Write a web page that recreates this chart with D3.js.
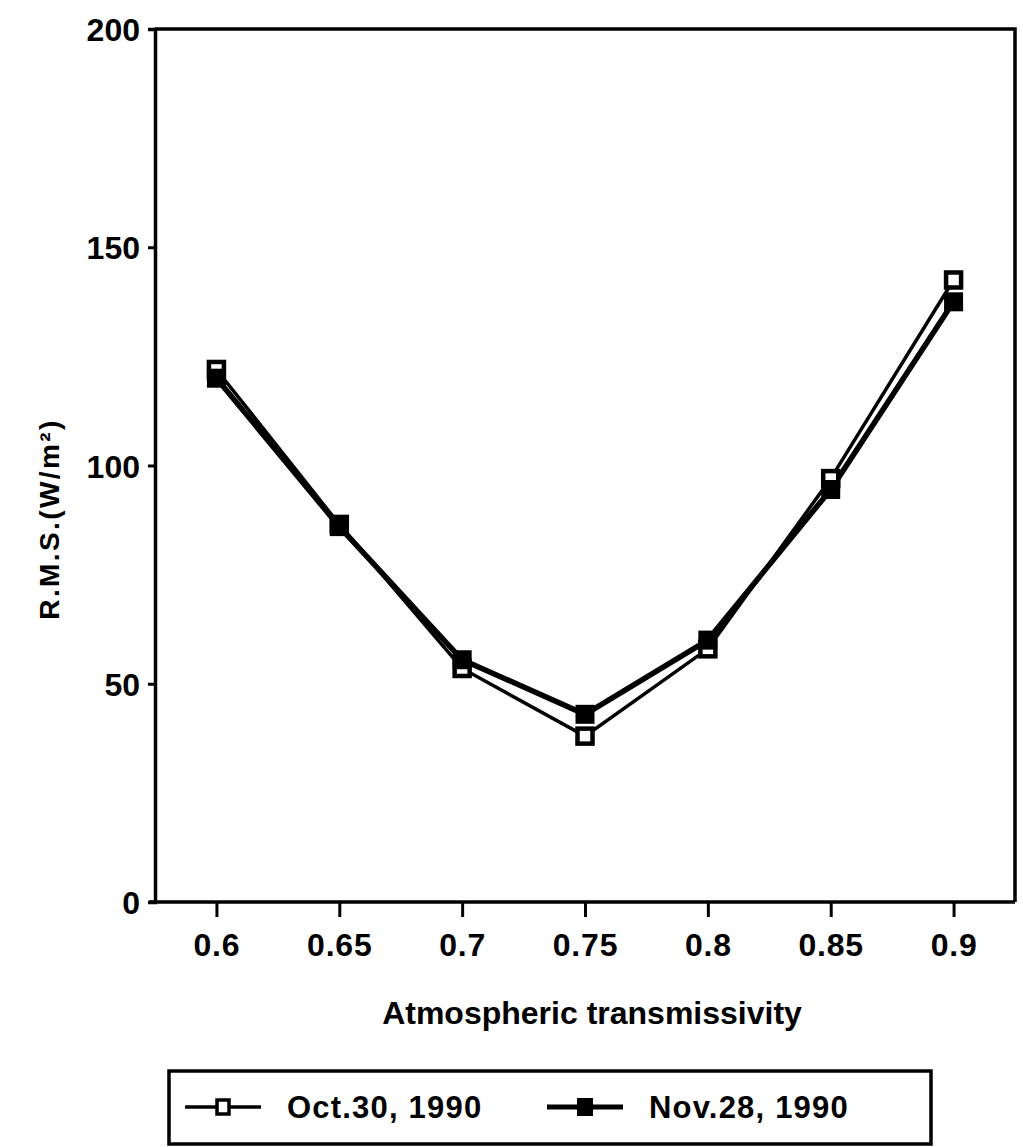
<!DOCTYPE html>
<html>
<head>
<meta charset="utf-8">
<script src="https://cdn.jsdelivr.net/npm/d3@7"></script>
<style>
  body { margin: 0; background: #fff; }
  text { font-family: "Liberation Sans", Arial, sans-serif; fill: #000; font-weight: bold; }
</style>
</head>
<body>
<div id="chart"></div>
<script>
// data
const transmissivity = ["0.6", "0.65", "0.7", "0.75", "0.8", "0.85", "0.9"];
const oct30 = [122, 86.5, 53.5, 38, 58, 97, 142.5];
const nov28 = [120, 86, 55.5, 43, 60, 94.5, 137.5];
const yTicks = [0, 50, 100, 150, 200];
const seriesNames = ["Oct.30, 1990", "Nov.28, 1990"];

const W = 1023, H = 1147;
const margin = { top: 29, right: 8, bottom: 245, left: 155 };
const width = W - margin.left - margin.right,
    height = H - margin.top - margin.bottom;

const svg = d3.select("#chart").append("svg")
    .attr("width", W)
    .attr("height", H);

const g = svg.append("g")
    .attr("transform", "translate(" + margin.left + "," + margin.top + ")");

// scales
const x = d3.scalePoint().domain(transmissivity).range([0, width]).padding(0.5);
const y = d3.scaleLinear().domain([0, 200]).range([height, 0]);

// frame (top + right)
g.append("path")
    .attr("d", "M0,0H" + width + "V" + height)
    .attr("fill", "none")
    .attr("stroke", "#000")
    .attr("stroke-width", 3.5);

// Y axis
const yAxis = g.append("g")
    .call(d3.axisLeft(y).tickValues(yTicks).tickSize(7).tickPadding(8));
yAxis.select(".domain").attr("stroke-width", 3.5);
yAxis.selectAll(".tick line").attr("stroke-width", 3);
yAxis.selectAll(".tick text")
    .style("font-size", "32px")
    .attr("dy", "0.36em");

// X axis
const xAxis = g.append("g")
    .attr("transform", "translate(0," + height + ")")
    .call(d3.axisBottom(x).tickSize(15).tickPadding(16).tickSizeOuter(0));
xAxis.select(".domain").attr("stroke-width", 3.5).attr("d", "M-6,0H" + width);
xAxis.selectAll(".tick line").attr("stroke-width", 3);
xAxis.selectAll(".tick text")
    .style("font-size", "32px")
    .style("letter-spacing", "0.8px");

// axis titles
g.append("text")
    .attr("x", 437)
    .attr("y", 995)
    .attr("text-anchor", "middle")
    .style("font-size", "32px")
    .text("Atmospheric transmissivity");

svg.append("text")
    .attr("transform", "translate(59,519) rotate(-90)")
    .attr("text-anchor", "middle")
    .style("font-size", "28px")
    .style("letter-spacing", "2.4px")
    .text("R.M.S.(W/m²)");

// lines
const line = d3.line()
    .x((d, i) => x(transmissivity[i]))
    .y(d => y(d));

g.append("path")
    .datum(oct30)
    .attr("fill", "none")
    .attr("stroke", "#000")
    .attr("stroke-width", 3.5)
    .attr("d", line);

g.append("path")
    .datum(nov28)
    .attr("fill", "none")
    .attr("stroke", "#000")
    .attr("stroke-width", 5.5)
    .attr("d", line);

const ms = 19;
// open squares (Oct.30)
g.selectAll(".oct")
    .data(oct30)
    .enter().append("rect")
    .attr("class", "oct")
    .attr("x", (d, i) => x(transmissivity[i]) - ms / 2 + 2)
    .attr("y", d => y(d) - ms / 2 + 2)
    .attr("width", ms - 4)
    .attr("height", ms - 4)
    .attr("fill", "#fff")
    .attr("stroke", "#000")
    .attr("stroke-width", 4.5);

// filled squares (Nov.28)
g.selectAll(".nov")
    .data(nov28)
    .enter().append("rect")
    .attr("class", "nov")
    .attr("x", (d, i) => x(transmissivity[i]) - ms / 2)
    .attr("y", d => y(d) - ms / 2)
    .attr("width", ms)
    .attr("height", ms)
    .attr("fill", "#000");

// legend
const legend = svg.append("g");
legend.append("rect")
    .attr("x", 169).attr("y", 1071)
    .attr("width", 762).attr("height", 73)
    .attr("fill", "none")
    .attr("stroke", "#000")
    .attr("stroke-width", 3.5);

const legendX = [185, 547];
seriesNames.forEach((name, i) => {
    const lx = legendX[i], ly = 1107;
    legend.append("line")
        .attr("x1", lx).attr("x2", lx + 76)
        .attr("y1", ly).attr("y2", ly)
        .attr("stroke", "#000")
        .attr("stroke-width", i === 0 ? 3.5 : 5);
    if (i === 0) {
        legend.append("rect")
            .attr("x", lx + 38 - 6).attr("y", ly - 7)
            .attr("width", 12).attr("height", 14)
            .attr("fill", "#fff").attr("stroke", "#000").attr("stroke-width", 3.5);
    } else {
        legend.append("rect")
            .attr("x", lx + 38 - 8).attr("y", ly - 9)
            .attr("width", 16).attr("height", 18)
            .attr("fill", "#000");
    }
    legend.append("text")
        .attr("x", lx + 102)
        .attr("y", ly + 11)
        .style("font-size", "31px")
        .style("letter-spacing", "1.2px")
        .text(name);
});
</script>
</body>
</html>
